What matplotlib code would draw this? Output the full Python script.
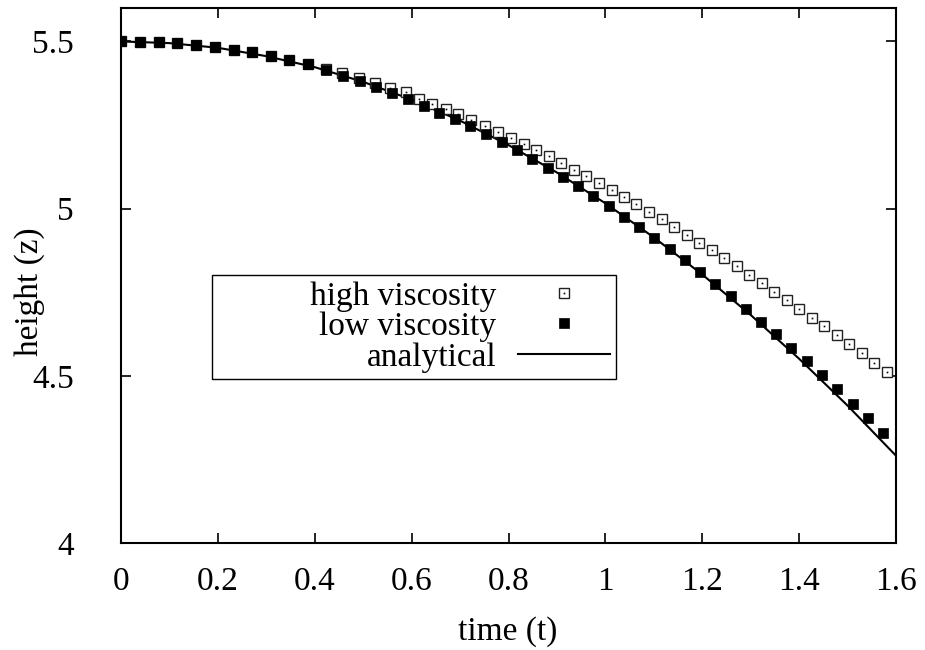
import matplotlib
matplotlib.use("Agg")
import matplotlib.pyplot as plt
from matplotlib.lines import Line2D
from matplotlib.legend_handler import HandlerTuple

# values
t_low = [0.0000, 0.0397, 0.0781, 0.1161, 0.1545, 0.1938, 0.2324, 0.2702,
         0.3088, 0.3466, 0.3853, 0.4231, 0.4582, 0.4933, 0.5263, 0.5594,
         0.5924, 0.6249, 0.6565, 0.6895, 0.7205, 0.7536, 0.7866, 0.8176,
         0.8486, 0.8816, 0.9126, 0.9444, 0.9746, 1.0070, 1.0386, 1.0696,
         1.1006, 1.1330, 1.1646, 1.1956, 1.2266, 1.2597, 1.2906, 1.3216,
         1.3526, 1.3836, 1.4160, 1.4470, 1.4780, 1.5117, 1.5420, 1.5736]
z_low = [5.500, 5.499, 5.497, 5.494, 5.490, 5.483, 5.475, 5.467,
         5.455, 5.443, 5.432, 5.416, 5.397, 5.382, 5.365, 5.347,
         5.329, 5.308, 5.287, 5.267, 5.247, 5.223, 5.200, 5.174,
         5.149, 5.122, 5.095, 5.068, 5.038, 5.008, 4.976, 4.944,
         4.911, 4.879, 4.846, 4.810, 4.774, 4.738, 4.699, 4.662,
         4.624, 4.582, 4.544, 4.502, 4.460, 4.415, 4.374, 4.328]

t_high = [0.0000, 0.0397, 0.0781, 0.1161, 0.1545, 0.1938, 0.2324, 0.2702,
          0.3088, 0.3466, 0.3853, 0.4231, 0.4561, 0.4906, 0.5237, 0.5561,
          0.5877, 0.6152, 0.6428, 0.6703, 0.6966, 0.7234, 0.7509, 0.7777,
          0.8060, 0.8321, 0.8577, 0.8831, 0.9093, 0.9347, 0.9610, 0.9878,
          1.0132, 1.0386, 1.0642, 1.0903, 1.1159, 1.1419, 1.1681, 1.1936,
          1.2198, 1.2452, 1.2708, 1.2969, 1.3231, 1.3485, 1.3747, 1.4001,
          1.4257, 1.4518, 1.4774, 1.5034, 1.5297, 1.5551, 1.5807]
z_high = [5.500, 5.499, 5.497, 5.494, 5.490, 5.483, 5.475, 5.467,
          5.455, 5.443, 5.432, 5.417, 5.407, 5.390, 5.375, 5.362,
          5.348, 5.329, 5.313, 5.297, 5.282, 5.265, 5.248, 5.230,
          5.212, 5.193, 5.175, 5.156, 5.137, 5.117, 5.097, 5.076,
          5.056, 5.035, 5.013, 4.991, 4.968, 4.945, 4.922, 4.898,
          4.876, 4.852, 4.827, 4.802, 4.778, 4.752, 4.726, 4.700,
          4.674, 4.648, 4.621, 4.594, 4.568, 4.539, 4.512]

t_exact = [0.0, 0.1, 0.2, 0.3, 0.4, 0.5, 0.6, 0.7, 0.8,
           0.9, 1.0, 1.1, 1.2, 1.3, 1.4, 1.5, 1.6]
z_exact = [5.500, 5.495, 5.481, 5.456, 5.423, 5.379, 5.326, 5.263, 5.190,
           5.108, 5.016, 4.914, 4.803, 4.682, 4.551, 4.411, 4.261]

x_ticks = [0, 0.2, 0.4, 0.6, 0.8, 1.0, 1.2, 1.4, 1.6]
x_tick_labels = ["0", "0.2", "0.4", "0.6", "0.8", "1", "1.2", "1.4", "1.6"]
y_ticks = [4, 4.5, 5, 5.5]
y_tick_labels = ["4", "4.5", "5", "5.5"]

FS = 24

plt.rcParams['font.family'] = ['Liberation Serif', 'DejaVu Serif']

fig = plt.figure(figsize=(9.25, 6.5), dpi=100)
ax = fig.add_axes([121 / 925, 107 / 650, 775 / 925, 535 / 650])

ax.plot(t_exact, z_exact, color='black', lw=1.5, zorder=2)
hi, = ax.plot(t_high, z_high, ls='none', marker='s', ms=6.5, mfc='white',
              mec='#222222', mew=1.0, zorder=3)
hi_dot, = ax.plot(t_high, z_high, ls='none', marker='s', ms=1.2, mfc='black',
                  mec='none', zorder=3)
lo, = ax.plot(t_low, z_low, ls='none', marker='s', ms=7.5, mfc='black',
              mec='black', mew=0.5, zorder=4)

ax.set_xlim(0, 1.6)
ax.set_ylim(4, 5.6)
ax.set_xticks(x_ticks)
ax.set_xticklabels(x_tick_labels)
ax.set_yticks(y_ticks)
ax.set_yticklabels(y_tick_labels)
ax.tick_params(axis='both', direction='in', length=7, width=1.2,
               top=True, right=True, labelsize=FS)
ax.tick_params(axis='x', pad=17)
ax.tick_params(axis='y', pad=34)
for s in ax.spines.values():
    s.set_linewidth(1.5)

fig.text(30 / 925, 1 - 292 / 650, "height (z)", rotation=90,
         ha='center', va='center', fontsize=FS)
fig.text(508 / 925, 1 - 632 / 650, "time (t)",
         ha='center', va='center', fontsize=FS)

line_h = Line2D([], [], color='black', lw=1.5)
leg = ax.legend([(hi, hi_dot), lo, line_h],
                [" " * 11 + "high viscosity", "low viscosity", "analytical"],
                handler_map={tuple: HandlerTuple(ndivide=1)},
                loc='upper left', bbox_to_anchor=(212 / 925, 1 - 275 / 650),
                bbox_transform=fig.transFigure, borderaxespad=0,
                markerfirst=False, numpoints=1, fontsize=FS,
                handlelength=2.75, handletextpad=0.65, borderpad=0.18,
                labelspacing=0.0, fancybox=False, framealpha=1,
                edgecolor='black')
leg.get_frame().set_linewidth(1.0)

fig.savefig("out.png", dpi=100)
